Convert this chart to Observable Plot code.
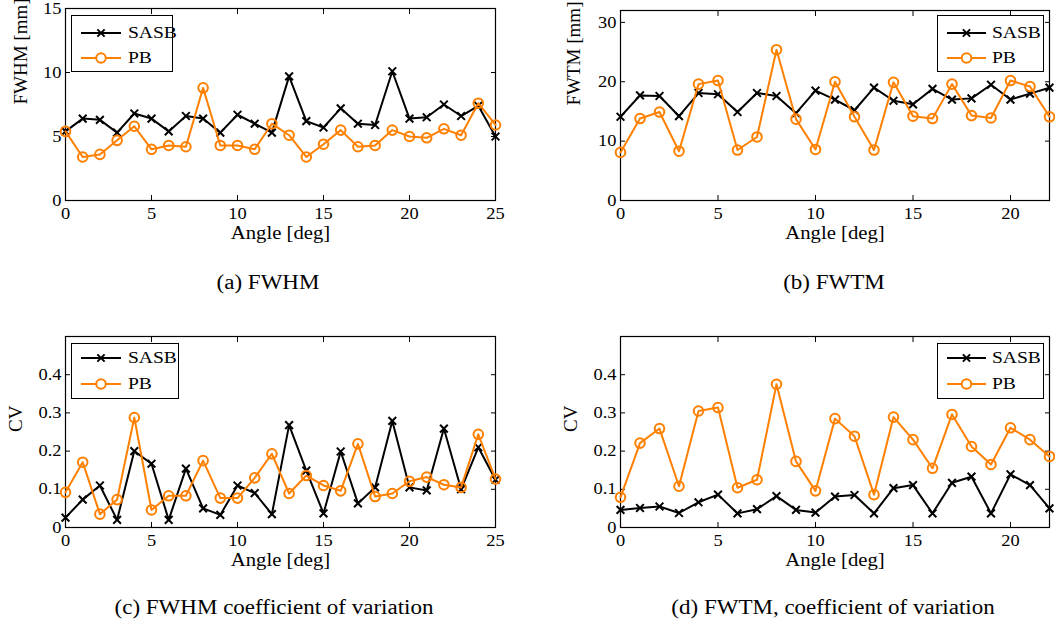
<!DOCTYPE html>
<html>
<head>
<meta charset="utf-8">
<script src="https://cdn.jsdelivr.net/npm/d3@7"></script>
<script src="https://cdn.jsdelivr.net/npm/@observablehq/plot@0.6"></script>
<style>
  html, body { margin: 0; padding: 0; background: #fff; }
  #wrap { position: relative; width: 1055px; height: 624px; font-family: "Liberation Serif", "Times New Roman", Tinos, "DejaVu Serif", serif; color: #000; }
  .panel { position: absolute; }
  .legend { position: absolute; border: 1px solid #000; background: #fff; box-sizing: border-box; }
  .legend .row { position: absolute; left: 0; height: 20px; }
  .legend svg { position: absolute; left: 0; top: 0; }
  .legend .lab { position: absolute; font-size: 17px; line-height: 20px; top: 0; transform: scaleX(1.15); transform-origin: left center; white-space: nowrap; }
  .caption { position: absolute; font-size: 20px; white-space: nowrap; transform: translateX(-50%) scaleX(1.15); line-height: 22px; }
  svg text { font-family: "Liberation Serif", "Times New Roman", Tinos, "DejaVu Serif", serif; }
</style>
</head>
<body>
<div id="wrap"></div>
<script>
// ---------- data ----------
const anglesFWHM = [0,1,2,3,4,5,6,7,8,9,10,11,12,13,14,15,16,17,18,19,20,21,22,23,24,25];
const fwhmSASB = [5.4,6.4,6.3,5.3,6.8,6.4,5.4,6.6,6.4,5.3,6.7,6.0,5.3,9.7,6.2,5.7,7.2,6.0,5.9,10.1,6.4,6.5,7.5,6.6,7.4,5.0];
const fwhmPB   = [5.4,3.4,3.6,4.7,5.8,4.0,4.3,4.2,8.8,4.3,4.3,4.0,6.0,5.1,3.4,4.4,5.5,4.2,4.3,5.5,5.0,4.9,5.6,5.1,7.6,5.9];

const anglesFWTM = [0,1,2,3,4,5,6,7,8,9,10,11,12,13,14,15,16,17,18,19,20,21,22];
const fwtmSASB = [14.1,17.7,17.6,14.2,18.1,17.9,14.9,18.1,17.6,14.7,18.5,17.0,15.2,19.0,16.8,16.2,18.8,17.0,17.2,19.5,17.0,18.0,19.0];
const fwtmPB   = [8.1,13.8,14.9,8.3,19.6,20.2,8.5,10.7,25.4,13.7,8.6,20.0,14.1,8.5,19.9,14.2,13.8,19.6,14.3,13.9,20.2,19.2,14.1];

const cvFwhmSASB = [0.026,0.073,0.110,0.020,0.200,0.167,0.020,0.154,0.050,0.033,0.110,0.090,0.035,0.268,0.149,0.037,0.199,0.063,0.105,0.279,0.105,0.097,0.259,0.100,0.210,0.125];
const cvFwhmPB   = [0.092,0.171,0.035,0.073,0.288,0.046,0.083,0.083,0.175,0.077,0.077,0.130,0.193,0.089,0.136,0.110,0.096,0.219,0.081,0.089,0.121,0.132,0.112,0.105,0.244,0.127];

const cvFwtmSASB = [0.046,0.051,0.055,0.038,0.066,0.086,0.037,0.048,0.082,0.046,0.039,0.081,0.085,0.037,0.103,0.111,0.037,0.117,0.133,0.037,0.139,0.111,0.050];
const cvFwtmPB   = [0.079,0.221,0.259,0.108,0.305,0.314,0.104,0.125,0.375,0.173,0.096,0.285,0.239,0.086,0.289,0.230,0.155,0.296,0.212,0.165,0.261,0.230,0.186];

const seriesNames = ["SASB", "PB"];
const seriesColors = ["#000000", "#ff8000"];
const xTicksFWHM = [0,5,10,15,20,25];
const xTicksFWTM = [0,5,10,15,20];
const yTicksFWHM = [0,5,10,15];
const yTicksFWTM = [0,10,20,30];
const yTicksCV = [0,0.1,0.2,0.3,0.4];
const xLabel = "Angle [deg]";
const captions = ["(a) FWHM", "(b) FWTM", "(c) FWHM coefficient of variation", "(d) FWTM, coefficient of variation"];

// ---------- helpers ----------
const S = 1.15; // horizontal glyph stretch of the reference
const FONT = "'Liberation Serif', 'Times New Roman', Tinos, 'DejaVu Serif', serif";

function rowsOf(x, v) { return x.map((a, i) => ({angle: a, v: v[i]})); }

function makePanel(o) {
  const s1 = rowsOf(o.x, o.s1), s2 = rowsOf(o.x, o.s2);
  const blank = () => "";
  return Plot.plot({
    width: o.width, height: o.height,
    marginLeft: o.ml, marginRight: o.mr, marginTop: o.mt, marginBottom: o.mb,
    style: {fontFamily: FONT, fontSize: "16px", background: "transparent", color: "black", overflow: "visible"},
    x: {domain: o.xDomain},
    y: {domain: o.yDomain},
    marks: [
      Plot.axisX({ticks: o.xTicks, tickSize: 0, tickPadding: 7, tickFormat: d3.format("d"), label: null, fontSize: 16}),
      Plot.axisX({anchor: "bottom", ticks: o.xTicks, tickSize: -5, tickFormat: blank, label: null}),
      Plot.axisX({anchor: "top", ticks: o.xTicks, tickSize: -5, tickFormat: blank, label: null}),
      Plot.axisY({ticks: o.yTicks, tickSize: 0, tickPadding: 4, tickFormat: d3.format("~g"), label: null, fontSize: 16}),
      Plot.axisY({anchor: "left", ticks: o.yTicks, tickSize: -5, tickFormat: blank, label: null}),
      Plot.axisY({anchor: "right", ticks: o.yTicks, tickSize: -5, tickFormat: blank, label: null}),
      Plot.frame({stroke: "black", strokeWidth: 1.2}),
      Plot.text([xLabel], {text: d => d, frameAnchor: "bottom", dy: 38, fontSize: 18}),
      Plot.text([o.yLabel], {text: d => d, frameAnchor: "left", rotate: -90, dx: -o.yOff, fontSize: 19}),
      Plot.line(s1, {x: "angle", y: "v", stroke: seriesColors[0], strokeWidth: 2}),
      Plot.dot(s1, {x: "angle", y: "v", symbol: "times", r: 3.6, stroke: seriesColors[0], strokeWidth: 2}),
      Plot.line(s2, {x: "angle", y: "v", stroke: seriesColors[1], strokeWidth: 2}),
      Plot.dot(s2, {x: "angle", y: "v", symbol: "circle", r: 4.8, stroke: seriesColors[1], fill: "none", strokeWidth: 2})
    ]
  });
}

function stretchText(root) {
  root.querySelectorAll("text").forEach(t => {
    const tr = (t.getAttribute("transform") || "") + (t.parentNode.getAttribute ? (t.parentNode.getAttribute("transform") || "") : "");
    if (/rotate/.test(tr)) return;
    const L = t.getComputedTextLength();
    if (L > 0) { t.setAttribute("textLength", (L * S).toFixed(2)); t.setAttribute("lengthAdjust", "spacingAndGlyphs"); }
  });
}

function legendBox(left, top, w, h, rowY, lineX0, lineX1, textX) {
  const box = document.createElement("div");
  box.className = "legend";
  Object.assign(box.style, {left: left + "px", top: top + "px", width: w + "px", height: h + "px"});
  seriesNames.forEach((name, i) => {
    const row = document.createElement("div");
    row.className = "row";
    row.style.top = (rowY[i] - 10) + "px";
    row.style.width = w + "px";
    const sw = lineX1 + 8;
    const c = seriesColors[i];
    const mid = (lineX0 + lineX1) / 2;
    const marker = i === 0
      ? `<path d="M${mid-3.6},6.4L${mid+3.6},13.6M${mid-3.6},13.6L${mid+3.6},6.4" stroke="${c}" stroke-width="2" fill="none"/>`
      : `<circle cx="${mid}" cy="10" r="4.8" stroke="${c}" stroke-width="2" fill="#fff"/>`;
    row.innerHTML = `<svg width="${sw}" height="20"><line x1="${lineX0}" x2="${lineX1}" y1="10" y2="10" stroke="${c}" stroke-width="2"/>${marker}</svg><span class="lab" style="left:${textX}px">${name}</span>`;
    box.appendChild(row);
  });
  return box;
}

const wrap = document.getElementById("wrap");

function place(node, left, top) {
  const d = document.createElement("div");
  d.className = "panel";
  d.style.left = left + "px"; d.style.top = top + "px";
  d.appendChild(node);
  wrap.appendChild(d);
  return d;
}

const pA = makePanel({x: anglesFWHM, s1: fwhmSASB, s2: fwhmPB, xDomain: [0,25], yDomain: [0,15], xTicks: xTicksFWHM, yTicks: yTicksFWHM,
  yLabel: "FWHM [mm]", yOff: 45, width: 510, height: 250, ml: 65, mr: 15, mt: 8, mb: 50});
const pB = makePanel({x: anglesFWTM, s1: fwtmSASB, s2: fwtmPB, xDomain: [0,22], yDomain: [0,32], xTicks: xTicksFWTM, yTicks: yTicksFWTM,
  yLabel: "FWTM [mm]", yOff: 47, width: 515, height: 250, ml: 80, mr: 6, mt: 10, mb: 50});
const pC = makePanel({x: anglesFWHM, s1: cvFwhmSASB, s2: cvFwhmPB, xDomain: [0,25], yDomain: [0,0.5], xTicks: xTicksFWHM, yTicks: yTicksCV,
  yLabel: "CV", yOff: 50, width: 510, height: 257, ml: 65, mr: 15, mt: 16, mb: 50});
const pD = makePanel({x: anglesFWTM, s1: cvFwtmSASB, s2: cvFwtmPB, xDomain: [0,22], yDomain: [0,0.5], xTicks: xTicksFWTM, yTicks: yTicksCV,
  yLabel: "CV", yOff: 50, width: 515, height: 257, ml: 80, mr: 6, mt: 16, mb: 50});

place(pA, 0, 0); place(pB, 540, 0); place(pC, 0, 320); place(pD, 540, 320);
[pA, pB, pC, pD].forEach(stretchText);

wrap.appendChild(legendBox(71, 15, 102, 57, [17, 42], 9, 49, 56));
wrap.appendChild(legendBox(937, 15, 107, 57, [17, 42], 9, 48, 54));
wrap.appendChild(legendBox(71, 343, 108, 56, [14, 40], 9, 49, 56));
wrap.appendChild(legendBox(937, 343, 107, 56, [14, 40], 9, 48, 54));

const capPos = [[268, 271], [834, 271], [274, 596], [833, 596]];
captions.forEach((t, i) => {
  const c = document.createElement("div");
  c.className = "caption";
  c.textContent = t;
  c.style.left = capPos[i][0] + "px";
  c.style.top = capPos[i][1] + "px";
  wrap.appendChild(c);
});
</script>
</body>
</html>
